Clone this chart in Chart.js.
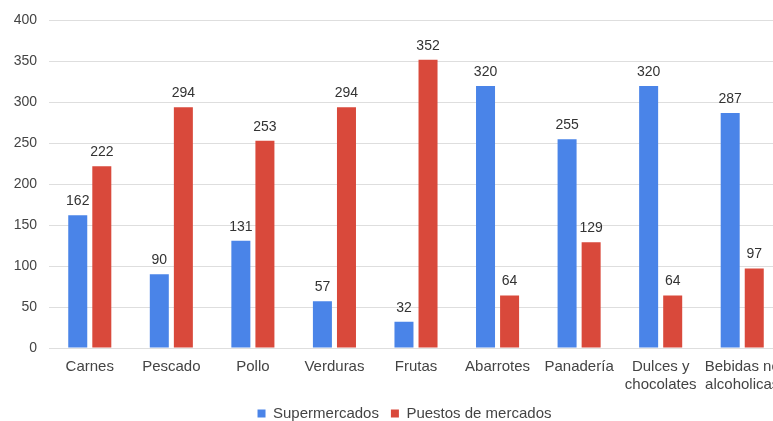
<!DOCTYPE html>
<html>
<head>
<meta charset="utf-8">
<script src="https://cdn.jsdelivr.net/npm/chart.js@4.4.1/dist/chart.umd.min.js"></script>
<style>
  html, body { margin: 0; padding: 0; background: #fff; overflow: hidden; }
  #wrap { width: 783px; height: 421px; position: relative; }
</style>
</head>
<body>
<div id="wrap"><canvas id="compras"></canvas></div>
<script>
const categorias = ['Carnes', 'Pescado', 'Pollo', 'Verduras', 'Frutas', 'Abarrotes', 'Panadería',
  ['Dulces y', 'chocolates'], ['Bebidas no', 'alcoholicas']];
const supermercados = [162, 90, 131, 57, 32, 320, 255, 320, 287];
const puestos = [222, 294, 253, 294, 352, 64, 129, 64, 97];

const FONT = "'Liberation Sans', Arial, sans-serif";

// write each bar's value just above it
const valueLabels = {
  id: 'valueLabels',
  afterDatasetsDraw(chart) {
    const ctx = chart.ctx;
    ctx.save();
    ctx.font = '14px ' + FONT;
    ctx.fillStyle = '#333';
    ctx.textAlign = 'center';
    ctx.textBaseline = 'middle';
    chart.data.datasets.forEach((ds, i) => {
      chart.getDatasetMeta(i).data.forEach((bar, j) => {
        ctx.fillText(ds.data[j], bar.x, bar.y - 14);
      });
    });
    ctx.restore();
  }
};

// nudge the legend a bit to the right of center
const legendShift = {
  id: 'legendShift',
  afterLayout(chart) {
    if (chart.legend) {
      chart.legend.left += 13;
      chart.legend.right += 13;
    }
  }
};

new Chart(document.getElementById('compras'), {
  type: 'bar',
  data: {
    labels: categorias,
    datasets: [
      { label: 'Supermercados', data: supermercados, backgroundColor: '#4a84e8' },
      { label: 'Puestos de mercados', data: puestos, backgroundColor: '#d9493b' }
    ]
  },
  options: {
    responsive: true,
    maintainAspectRatio: false,
    animation: false,
    layout: { padding: { top: 10, left: 0, right: 0, bottom: -10 } },
    datasets: { bar: { categoryPercentage: 0.59, barPercentage: 0.79 } },
    plugins: {
      tooltip: { enabled: false },
      legend: {
        position: 'bottom',
        labels: {
          font: { family: FONT, size: 15 },
          color: '#444',
          boxWidth: 8,
          boxHeight: 8,
          padding: 12
        }
      }
    },
    scales: {
      x: {
        grid: { display: false, drawTicks: false },
        border: { display: false },
        ticks: { font: { family: FONT, size: 15 }, color: '#444', padding: 10, maxRotation: 0, autoSkip: false },
        afterFit(scale) {
          scale.height = 46;
          // let the last label run off the edge instead of shrinking the plot
          scale.paddingLeft = 0;
          scale.paddingRight = 0;
        }
      },
      y: {
        min: 0,
        max: 400,
        ticks: { stepSize: 50, font: { family: FONT, size: 14 }, color: '#444', padding: 12 },
        grid: { color: '#dedede', drawTicks: false },
        border: { display: false },
        afterFit(scale) { scale.width = 49; }
      }
    }
  },
  plugins: [valueLabels, legendShift]
});
</script>
</body>
</html>
